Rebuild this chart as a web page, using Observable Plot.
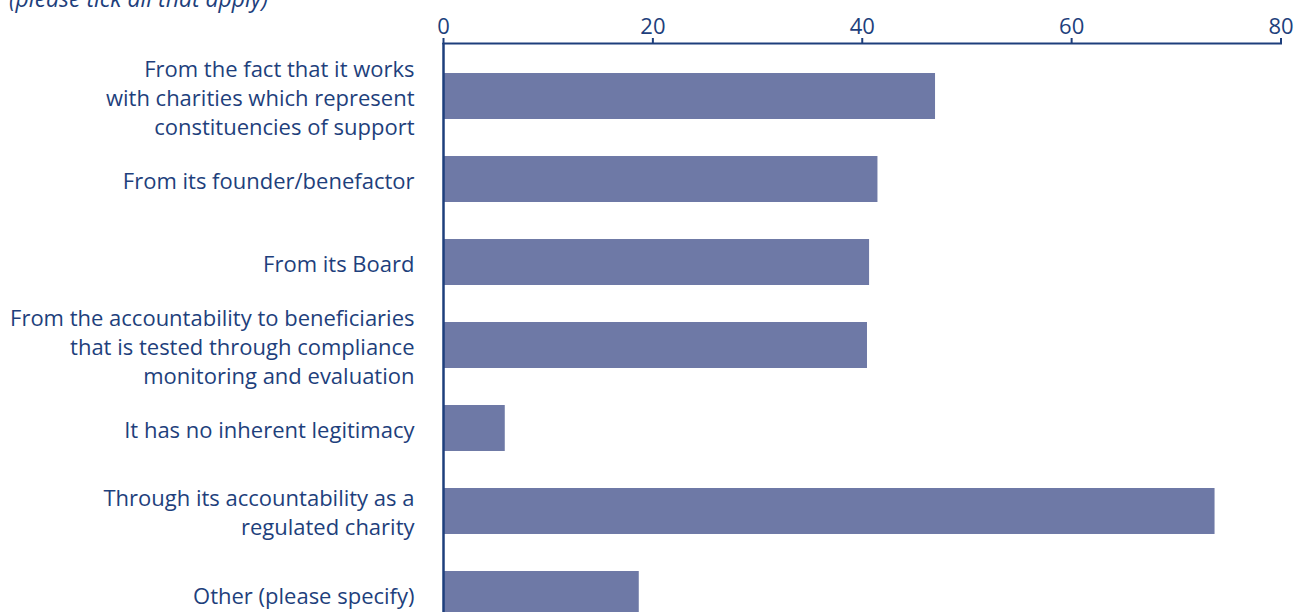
<!DOCTYPE html>
<html>
<head>
<meta charset="utf-8">
<script src="https://cdn.jsdelivr.net/npm/d3@7"></script>
<script src="https://cdn.jsdelivr.net/npm/@observablehq/plot@0.6"></script>
<style>
  html, body { margin: 0; padding: 0; background: #fff; overflow: hidden; }
  #wrap { position: relative; width: 1298px; height: 612px; }
  #note { position: absolute; left: 9px; top: -18px; font: italic 23px "Open Sans", sans-serif; color: #1e3f7c; white-space: nowrap; }
  svg { overflow: hidden; }
</style>
</head>
<body>
<div id="wrap">
  <div id="note">(please tick all that apply)</div>
  <div id="chart"></div>
</div>
<script>
const categories = [
  "From the fact that it works\nwith charities which represent\nconstituencies of support",
  "From its founder/benefactor",
  "From its Board",
  "From the accountability to beneficiaries\nthat is tested through compliance\nmonitoring and evaluation",
  "It has no inherent legitimacy",
  "Through its accountability as a\nregulated charity",
  "Other (please specify)"
];
const values = [47, 41.5, 40.7, 40.5, 5.9, 73.7, 18.7];
const xTicks = [0, 20, 40, 60, 80];

const data = categories.map((c, i) => ({category: c, value: values[i]}));
const ink = "#1e3f7c";

const chart = Plot.plot({
  width: 1298,
  height: 612,
  marginLeft: 443,
  marginRight: 17.5,
  marginTop: 43,
  marginBottom: 0,
  style: {fontFamily: "'Open Sans', sans-serif", fontSize: "22px", color: ink, background: "#fff"},
  x: {domain: [0, 80], axis: null},
  y: {domain: categories, range: [36, 654], padding: 0.446, round: false, axis: null},
  marks: [
    Plot.barX(data, {x: "value", y: "category", fill: "#6e79a6"}),
    Plot.axisX({anchor: "top", ticks: xTicks, tickSize: 6, tickPadding: 4, stroke: ink, strokeWidth: 2, fill: ink, fontSize: 22, label: null}),
    Plot.frame({anchor: "top", stroke: ink, strokeWidth: 2}),
    Plot.ruleX([0], {stroke: ink, strokeWidth: 2.5}),
    Plot.text(data, {x: 0, y: "category", text: "category", textAnchor: "end", dx: -29, lineHeight: 1.33, fill: ink, fontSize: 22})
  ]
});
document.getElementById("chart").appendChild(chart);
</script>
</body>
</html>
